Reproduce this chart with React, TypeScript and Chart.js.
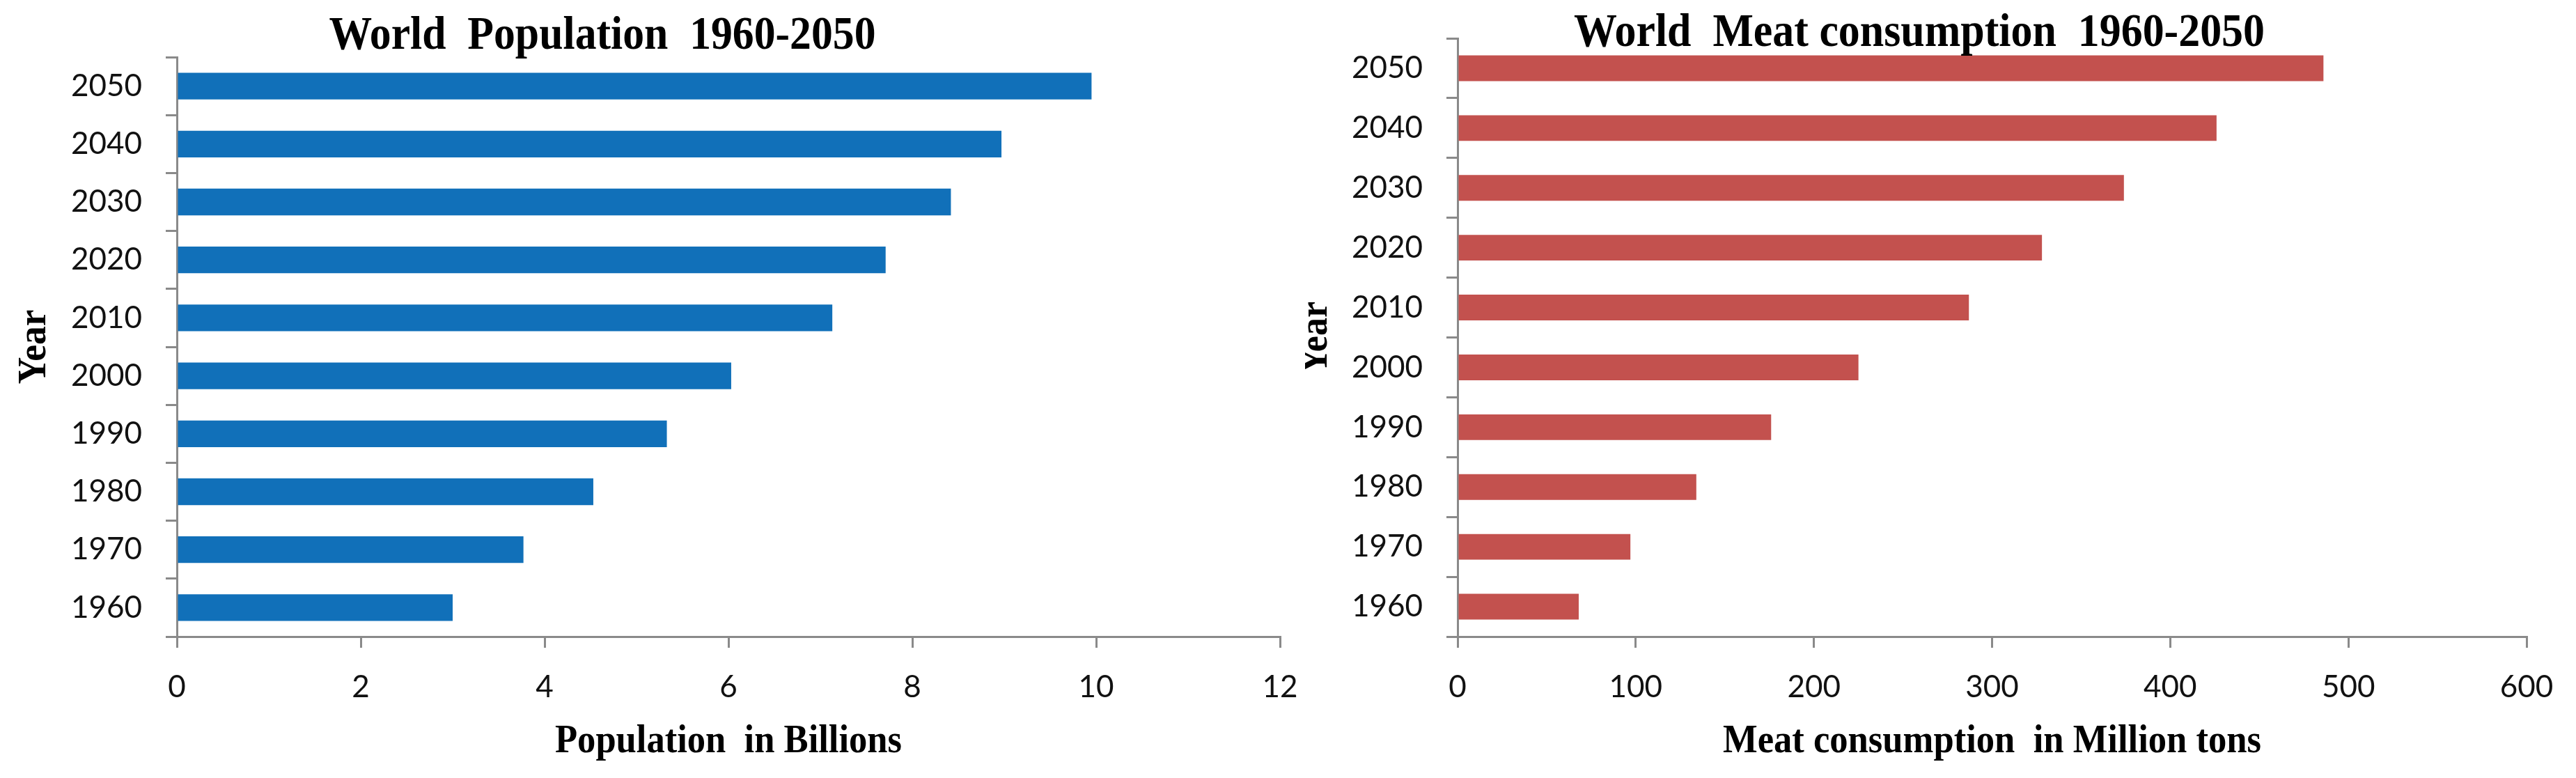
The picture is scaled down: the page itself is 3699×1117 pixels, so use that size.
import React, { useEffect, useRef } from 'react';
import { Chart, registerables } from 'chart.js';

Chart.register(...registerables);

// ---------- data ----------
const years = ['1960', '1970', '1980', '1990', '2000', '2010', '2020', '2030', '2040', '2050'];
const population = [3.0, 3.77, 4.53, 5.33, 6.03, 7.13, 7.71, 8.42, 8.97, 9.95];
const meatConsumption = [68, 97, 134, 176, 225, 287, 328, 374, 426, 486];
const populationTicks = [0, 2, 4, 6, 8, 10, 12];
const meatTicks = [0, 100, 200, 300, 400, 500, 600];

const populationTitle = 'World  Population  1960-2050';
const meatTitle = 'World  Meat consumption  1960-2050';
const populationAxisTitle = 'Population  in Billions';
const meatAxisTitle = 'Meat consumption  in Million tons';
const yearAxisTitle = 'Year';

// ---------- style ----------
const AXIS_GRAY = '#8a8a8a';
const TICK_FONT = { family: 'Lato, "Open Sans", sans-serif', size: 44 };
const SERIF_BOLD = '"Liberation Serif", "Times New Roman", serif';

type PanelSpec = {
  width: number;
  height: number;
  values: number[];
  ticks: number[];
  color: string;
  barPercentage: number;
  yWidth: number;
  xHeight: number;
  padding: { left: number; right: number; top: number; bottom: number };
  title: string;
  titleX: number;
  titleBaseline: number;
  titleWidth: number;
  axisTitle: string;
  axisTitleBaseline: number;
  axisTitleWidth: number;
  yearBaselineX: number;
  yearCenterY: number;
  yearLength: number;
};

function drawCondensed(
  ctx: CanvasRenderingContext2D,
  text: string,
  font: string,
  x: number,
  y: number,
  targetWidth: number,
  rotate: boolean
) {
  ctx.save();
  ctx.font = font;
  const w = ctx.measureText(text).width;
  const sx = targetWidth / w;
  ctx.translate(x, y);
  if (rotate) ctx.rotate(-Math.PI / 2);
  ctx.scale(sx, 1);
  ctx.fillStyle = '#000';
  ctx.textAlign = 'center';
  ctx.textBaseline = 'alphabetic';
  ctx.fillText(text, 0, 0);
  ctx.restore();
}

function makeTextPlugin(spec: PanelSpec, key: string) {
  return {
    id: 'condensedText_' + key,
    afterDraw(chart: any) {
      const ctx = chart.ctx as CanvasRenderingContext2D;
      const area = chart.chartArea;
      drawCondensed(ctx, spec.title, `bold 67px ${SERIF_BOLD}`, spec.titleX, spec.titleBaseline, spec.titleWidth, false);
      drawCondensed(
        ctx,
        spec.axisTitle,
        `bold 56px ${SERIF_BOLD}`,
        (area.left + area.right) / 2,
        spec.axisTitleBaseline,
        spec.axisTitleWidth,
        false
      );
      drawCondensed(ctx, yearAxisTitle, `bold 56px ${SERIF_BOLD}`, spec.yearBaselineX, spec.yearCenterY, spec.yearLength, true);
    },
  };
}

function makeConfig(spec: PanelSpec, key: string): any {
  return {
    type: 'bar',
    data: {
      labels: years,
      datasets: [
        {
          data: spec.values,
          backgroundColor: spec.color,
          borderWidth: 0,
          barPercentage: spec.barPercentage,
          categoryPercentage: 1,
        },
      ],
    },
    options: {
      indexAxis: 'y',
      responsive: false,
      animation: false,
      devicePixelRatio: 1,
      layout: { padding: spec.padding },
      plugins: {
        legend: { display: false },
        tooltip: { enabled: false },
        title: { display: false },
      },
      scales: {
        x: {
          type: 'linear',
          min: spec.ticks[0],
          max: spec.ticks[spec.ticks.length - 1],
          afterBuildTicks: (scale: any) => {
            scale.ticks = spec.ticks.map((v) => ({ value: v }));
          },
          ticks: {
            font: TICK_FONT,
            color: '#111',
            padding: 30,
          },
          grid: {
            drawOnChartArea: false,
            drawTicks: true,
            tickLength: 16,
            color: AXIS_GRAY,
            lineWidth: 3,
          },
          border: { display: true, color: AXIS_GRAY, width: 3 },
          afterFit: (scale: any) => {
            scale.height = spec.xHeight;
            scale.paddingLeft = 0;
            scale.paddingRight = 0;
            scale.paddingTop = 0;
            scale.paddingBottom = 0;
          },
        },
        y: {
          type: 'category',
          reverse: true,
          offset: true,
          ticks: {
            font: TICK_FONT,
            color: '#111',
            padding: 34,
          },
          grid: {
            offset: true,
            drawOnChartArea: false,
            drawTicks: true,
            tickLength: 16,
            color: AXIS_GRAY,
            lineWidth: 3,
          },
          border: { display: true, color: AXIS_GRAY, width: 3 },
          afterFit: (scale: any) => {
            scale.width = spec.yWidth;
            scale.paddingLeft = 0;
            scale.paddingRight = 0;
            scale.paddingTop = 0;
            scale.paddingBottom = 0;
          },
        },
      },
    },
    plugins: [makeTextPlugin(spec, key)],
  };
}

const leftSpec: PanelSpec = {
  width: 1866,
  height: 1101,
  values: population,
  ticks: populationTicks,
  color: '#1170b9',
  barPercentage: 0.46,
  yWidth: 246,
  xHeight: 195,
  padding: { left: 0, right: 36, top: 74, bottom: 0 },
  title: populationTitle,
  titleX: 857,
  titleBaseline: 62,
  titleWidth: 785,
  axisTitle: populationAxisTitle,
  axisTitleBaseline: 1072,
  axisTitleWidth: 498,
  yearBaselineX: 57,
  yearCenterY: 490,
  yearLength: 107,
};

const rightSpec: PanelSpec = {
  width: 1817,
  height: 1101,
  values: meatConsumption,
  ticks: meatTicks,
  color: '#c3514e',
  barPercentage: 0.43,
  yWidth: 219,
  xHeight: 195,
  padding: { left: 0, right: 63, top: 47, bottom: 0 },
  title: meatTitle,
  titleX: 882,
  titleBaseline: 58,
  titleWidth: 992,
  axisTitle: meatAxisTitle,
  axisTitleBaseline: 1072,
  axisTitleWidth: 773,
  yearBaselineX: 31,
  yearCenterY: 477,
  yearLength: 104,
};

function Panel({ spec, id }: { spec: PanelSpec; id: string }) {
  const ref = useRef<HTMLCanvasElement | null>(null);
  useEffect(() => {
    let chart: Chart | null = null;
    let cancelled = false;
    const fontsReady = (document as any).fonts
      ? Promise.all([
          (document as any).fonts.load('44px Lato'),
          (document as any).fonts.load('bold 56px "Liberation Serif"'),
        ]).catch(() => null)
      : Promise.resolve(null);
    fontsReady.then(() => {
      if (cancelled || !ref.current) return;
      chart = new Chart(ref.current, makeConfig(spec, id));
    });
    return () => {
      cancelled = true;
      if (chart) chart.destroy();
    };
  }, [spec, id]);
  return (
    <canvas
      ref={ref}
      width={spec.width}
      height={spec.height}
      style={{ display: 'block', width: spec.width, height: spec.height }}
    />
  );
}

export default function App() {
  return (
    <div style={{ display: 'flex', width: leftSpec.width + rightSpec.width, height: 1101, background: '#fff' }}>
      <Panel spec={leftSpec} id="population" />
      <Panel spec={rightSpec} id="meat" />
    </div>
  );
}
